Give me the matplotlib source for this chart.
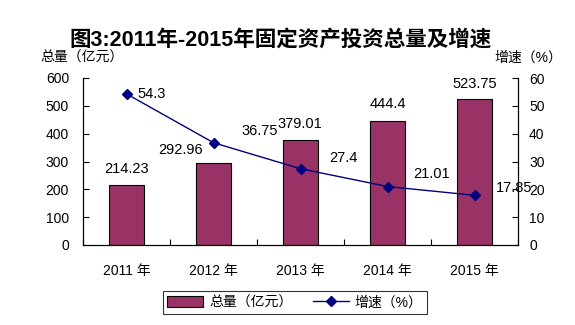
import matplotlib
matplotlib.use("Agg")
import matplotlib.pyplot as plt
import numpy as np

plt.rcParams['font.family'] = ['Liberation Sans', 'Noto Sans CJK SC', 'DejaVu Sans']

# ── data ─────────────────────────────────────────────────────────────────────
years = ["2011 年", "2012 年", "2013 年", "2014 年", "2015 年"]
total = [214.23, 292.96, 379.01, 444.4, 523.75]      # 亿元
growth = [54.3, 36.75, 27.4, 21.01, 17.85]           # %

BAR_COLOR = "#993366"
LINE_COLOR = "#000080"

# label offsets in pixels (dx, dy) relative to bar top / marker
bar_lbl_off = [(0, 16), (-33, 13), (-1, 16), (0, 17), (0, 15)]
line_lbl_off = [(25, 0), (46, 12), (43, 11), (44, 13), (40, 7)]

fig = plt.figure(figsize=(5.75, 3.25), dpi=100)
W, H = 575, 325
ax = fig.add_axes([83 / W, 1 - 245 / H, (518 - 83) / W, (245 - 78) / H])
ax2 = ax.twinx()

x = np.arange(len(years))
bars = ax.bar(x, total, width=0.40, color=BAR_COLOR, edgecolor="black",
              linewidth=0.8, label="总量（亿元）", zorder=2)
ln, = ax2.plot(x, growth, color=LINE_COLOR, lw=1.0, marker="D", ms=5,
               label="增速（%）", zorder=3)

ax.set_xlim(-0.5, len(years) - 0.5)
ax.set_ylim(0, 600)
ax.set_yticks(range(0, 601, 100))
ax2.set_ylim(0, 60)
ax2.set_yticks(range(0, 61, 10))

# category boundary ticks on x
ax.set_xticks(x)
ax.set_xticklabels(years, fontsize=10)
ax.set_xticks(np.arange(-0.5, len(years), 1.0), minor=True)
ax.tick_params(axis="x", which="major", length=0, pad=14)
ax.tick_params(axis="x", which="minor", direction="in", length=4, width=0.8)
ax.tick_params(axis="y", direction="in", length=4, width=0.8, labelsize=10, pad=10)
ax2.tick_params(axis="y", direction="in", length=4, width=0.8, labelsize=10, pad=8)

for a in (ax, ax2):
    a.spines["top"].set_visible(False)
    for s in ("left", "right", "bottom"):
        a.spines[s].set_linewidth(0.8)

# value labels
for i, v in enumerate(total):
    dx, dy = bar_lbl_off[i]
    ax.annotate(f"{v:g}", (x[i], v), xytext=(dx, dy), textcoords="offset pixels",
                ha="center", va="center", fontsize=10.5, zorder=4)
for i, v in enumerate(growth):
    dx, dy = line_lbl_off[i]
    ax2.annotate(f"{v:g}", (x[i], v), xytext=(dx, dy), textcoords="offset pixels",
                 ha="center", va="center", fontsize=10.5, zorder=4)

fig.text(281 / W, 1 - 40 / H, "图3:2011年-2015年固定资产投资总量及增速",
         ha="center", va="center", fontsize=15.5, fontweight="bold")
fig.text(40 / W, 1 - 58 / H, "总量（亿元）", ha="left", va="center", fontsize=10)
fig.text(562 / W, 1 - 58 / H, "增速（%）", ha="right", va="center", fontsize=10)

leg = fig.legend([bars, ln], ["总量（亿元）", "增速（%）"], loc="center",
                 bbox_to_anchor=(295 / W, 1 - 302.5 / H), ncol=2, fontsize=10,
                 frameon=True, fancybox=False, edgecolor="black",
                 handlelength=2.6, handletextpad=0.4, columnspacing=1.5,
                 borderpad=0.3, handleheight=0.8)
leg.get_frame().set_linewidth(0.8)

fig.savefig("out.png", dpi=100)
